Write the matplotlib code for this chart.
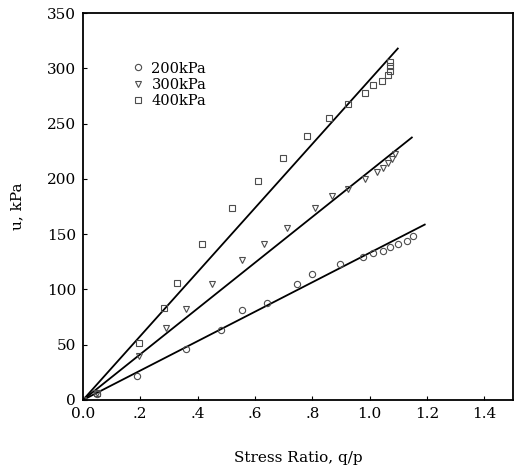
import numpy as np
import matplotlib.pyplot as plt

plt.rcParams['font.family'] = ['DejaVu Serif']

# 200kPa (circles) - lower line
x200 = [0.0, 0.05, 0.19, 0.36, 0.48, 0.556, 0.643, 0.745, 0.80, 0.895, 0.976,
        1.01, 1.045, 1.07, 1.098, 1.13, 1.15]
u200 = [0, 5, 22, 46, 63, 81, 88, 105, 114, 123, 129,
        133, 135, 138, 141, 144, 148]

# 300kPa (triangles) - middle line
x300 = [0.0, 0.05, 0.196, 0.29, 0.36, 0.45, 0.556, 0.633, 0.71, 0.808, 0.867,
        0.923, 0.983, 1.024, 1.045, 1.063, 1.077, 1.087]
u300 = [0, 6, 40, 65, 82, 105, 127, 141, 156, 174, 185,
        191, 200, 206, 210, 214, 218, 223]

# 400kPa (squares) - upper line
x400 = [0.0, 0.05, 0.196, 0.283, 0.329, 0.416, 0.521, 0.612, 0.696, 0.783, 0.857,
        0.923, 0.983, 1.01, 1.042, 1.063, 1.07, 1.07, 1.07]
u400 = [0, 6, 52, 83, 106, 141, 174, 198, 219, 239, 255,
        268, 278, 285, 289, 294, 298, 302, 306]

# fitted lines (from origin to end point)
line_x = [[0, 1.192], [0, 1.147], [0, 1.098]]
line_u = [[0, 158.7], [0, 237.5], [0, 318]]

fig = plt.figure(figsize=(5.27, 4.70), dpi=100)
ax = fig.add_axes([0.1575, 0.149, 0.816, 0.823])

for lx, lu in zip(line_x, line_u):
    ax.plot(lx, lu, color='black', lw=1.3)

mk = dict(ls='none', mfc='none', mec='0.3', mew=0.8, ms=4.5)
ax.plot(x200, u200, marker='o', label='200kPa', **mk)
ax.plot(x300, u300, marker='v', label='300kPa', **mk)
ax.plot(x400, u400, marker='s', label='400kPa', **mk)

ax.set_xlim(0, 1.5)
ax.set_ylim(0, 350)
ax.set_xticks([0, 0.2, 0.4, 0.6, 0.8, 1.0, 1.2, 1.4])
ax.set_xticklabels(['0.0', '.2', '.4', '.6', '.8', '1.0', '1.2', '1.4'])
ax.set_yticks([0, 50, 100, 150, 200, 250, 300, 350])
ax.tick_params(direction='in', length=3, labelsize=11, pad=5)
for s in ax.spines.values():
    s.set_linewidth(1.3)

ax.set_xlabel('Stress Ratio, q/p', fontsize=11, labelpad=22)
ax.set_ylabel('u, kPa', fontsize=11, labelpad=16)

ax.legend(loc='upper left', bbox_to_anchor=(0.115, 0.875), frameon=False,
          fontsize=10.5, handlelength=0.8, handletextpad=0.5, labelspacing=0.15,
          borderpad=0, borderaxespad=0)

fig.savefig('out.png', dpi=100)
